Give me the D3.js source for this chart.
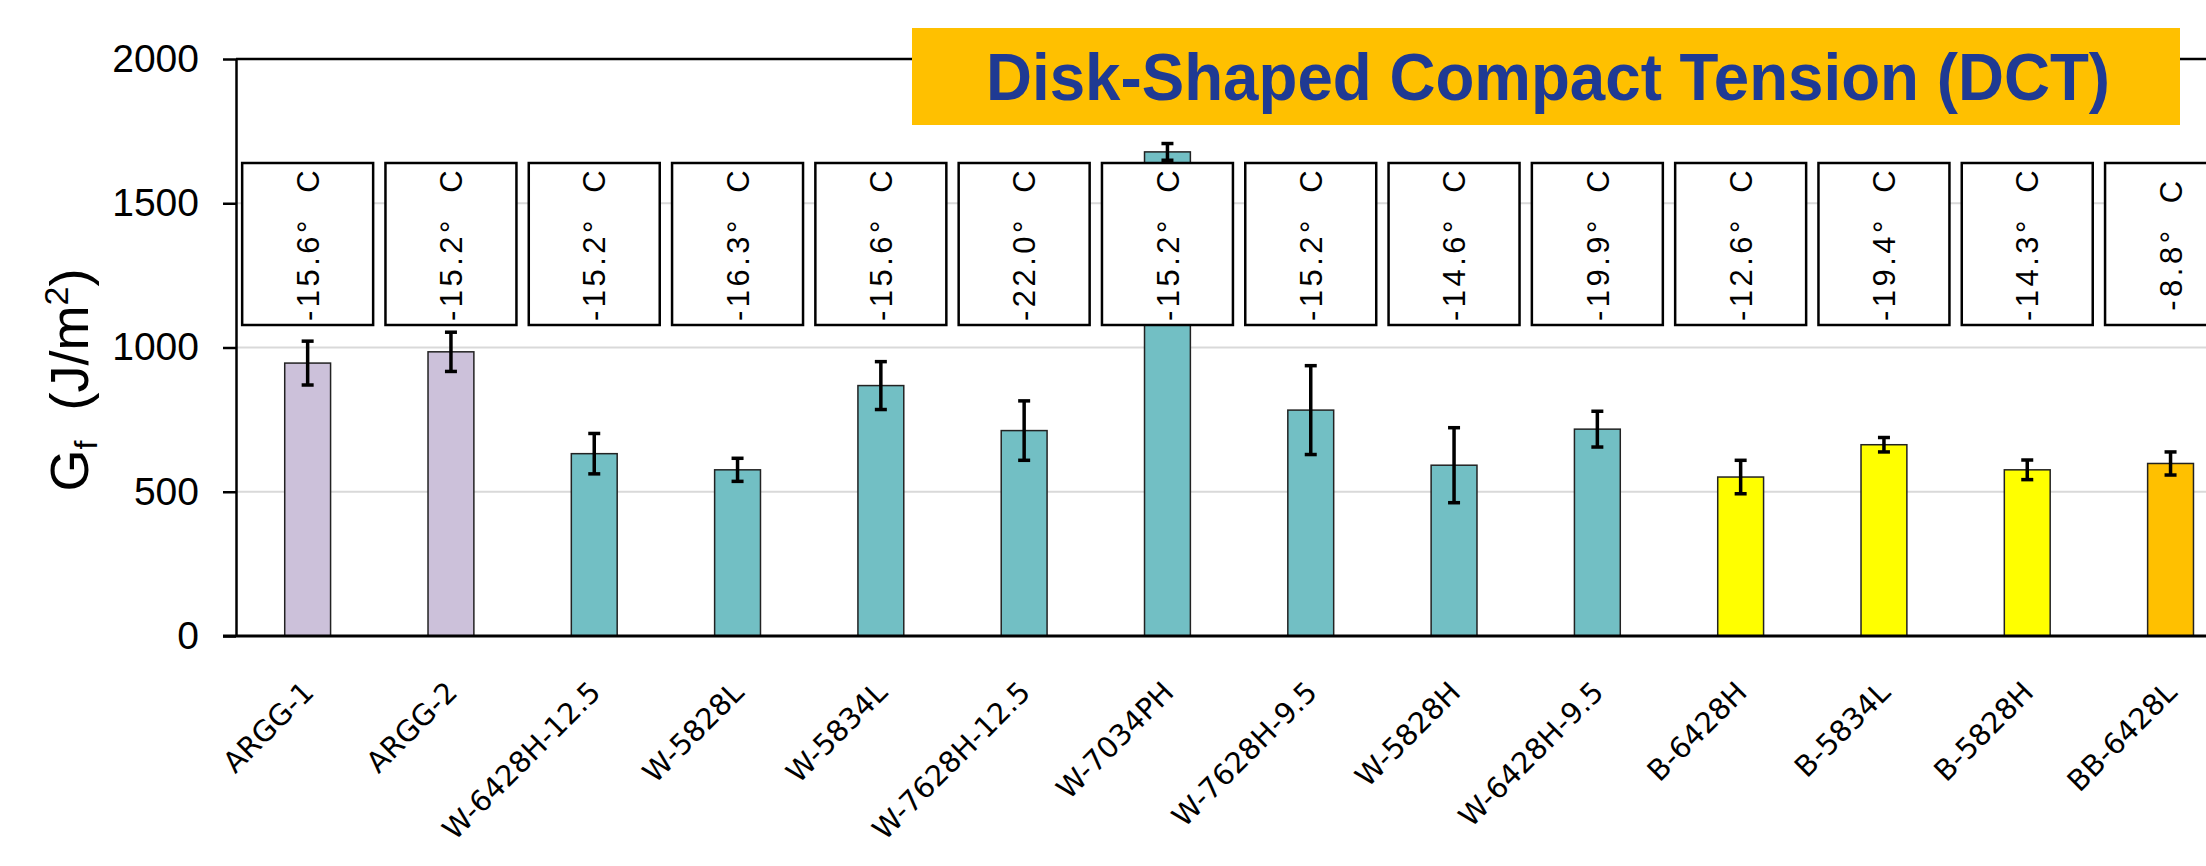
<!DOCTYPE html>
<html>
<head>
<meta charset="utf-8">
<script src="https://cdn.jsdelivr.net/npm/d3@7"></script>
<style>
  html, body { margin: 0; padding: 0; background: #fff; overflow: hidden; }
  svg { display: block; }
</style>
</head>
<body>
<svg id="chart" width="2206" height="866"></svg>
<script>
// --- du lieu ---
const categories = ["ARGG-1", "ARGG-2", "W-6428H-12.5", "W-5828L", "W-5834L", "W-7628H-12.5",
  "W-7034PH", "W-7628H-9.5", "W-5828H", "W-6428H-9.5", "B-6428H", "B-5834L", "B-5828H", "BB-6428L"];
const groups = ["ARGG", "ARGG", "W", "W", "W", "W", "W", "W", "W", "W", "B", "B", "B", "BB"];
const gfMean = [946, 985, 632, 576, 868, 712, 1678, 783, 592, 717, 551, 663, 576, 598];
const gfErr = [76, 68, 70, 40, 83, 103, 29, 154, 130, 62, 58, 25, 34, 40];
const testTemps = ["-15.6", "-15.2", "-15.2", "-16.3", "-15.6", "-22.0", "-15.2",
  "-15.2", "-14.6", "-19.9", "-12.6", "-19.4", "-14.3", "-8.8"];
const yTicks = [0, 500, 1000, 1500, 2000];
const groupColors = { ARGG: "#CCC1DA", W: "#72BFC4", B: "#FFFF00", BB: "#FFC000" };

const svg = d3.select("#chart");

// --- thang do ---
const plotLeft = 236, plotTop = 59, plotBottom = 636, step = 143.3;
const x = d3.scaleBand()
  .domain(categories)
  .range([plotLeft, plotLeft + step * categories.length])
  .paddingInner(0.68)
  .paddingOuter(0.34);

const xBox = d3.scaleBand()
  .domain(categories)
  .range([plotLeft, plotLeft + step * categories.length])
  .paddingInner(0.086)
  .paddingOuter(0.043);

const y = d3.scaleLinear().domain([0, 2000]).range([plotBottom, plotTop]);

// luoi ngang
svg.append("g")
  .selectAll("line")
  .data(yTicks.filter(d => d > 0 && d < 2000))
  .join("line")
    .attr("x1", plotLeft).attr("x2", 2206)
    .attr("y1", d => y(d)).attr("y2", d => y(d))
    .attr("stroke", "#D9D9D9").attr("stroke-width", 2);

// vien tren tai 2000
svg.append("line")
  .attr("x1", plotLeft).attr("x2", 2206)
  .attr("y1", y(2000)).attr("y2", y(2000))
  .attr("stroke", "#000").attr("stroke-width", 2.5);

// cot
svg.append("g")
  .selectAll("rect")
  .data(categories)
  .join("rect")
    .attr("x", d => x(d))
    .attr("width", x.bandwidth())
    .attr("y", (d, i) => y(gfMean[i]))
    .attr("height", (d, i) => y(0) - y(gfMean[i]))
    .attr("fill", (d, i) => groupColors[groups[i]])
    .attr("stroke", "#222")
    .attr("stroke-width", 1.5);

// hop nhiet do
const boxTop = 163, boxBottom = 325;
const boxes = svg.append("g")
  .selectAll("g")
  .data(categories)
  .join("g");

boxes.append("rect")
  .attr("x", d => xBox(d))
  .attr("width", xBox.bandwidth())
  .attr("y", boxTop)
  .attr("height", boxBottom - boxTop)
  .attr("fill", "#fff")
  .attr("stroke", "#000")
  .attr("stroke-width", 2.5);

boxes.append("text")
  .attr("transform", d => `translate(${xBox(d) + xBox.bandwidth() / 2},${(boxTop + boxBottom) / 2}) rotate(-90)`)
  .attr("text-anchor", "middle")
  .attr("dy", "0.36em")
  .style("font-family", "'Liberation Sans', Arial, sans-serif")
  .style("font-size", "31px")
  .style("letter-spacing", "3.5px")
  .style("white-space", "pre")
  .text((d, i) => `${testTemps[i]}°  C`);

// thanh sai so
const err = svg.append("g")
  .selectAll("g")
  .data(categories)
  .join("g")
    .attr("stroke", "#000")
    .attr("stroke-width", 3.5);

const cx = d => x(d) + x.bandwidth() / 2;
err.append("line")
  .attr("x1", cx).attr("x2", cx)
  .attr("y1", (d, i) => y(gfMean[i] + gfErr[i]))
  .attr("y2", (d, i) => y(gfMean[i] - gfErr[i]));
err.append("line")
  .attr("x1", d => cx(d) - 6).attr("x2", d => cx(d) + 6)
  .attr("y1", (d, i) => y(gfMean[i] + gfErr[i]))
  .attr("y2", (d, i) => y(gfMean[i] + gfErr[i]));
err.append("line")
  .attr("x1", d => cx(d) - 6).attr("x2", d => cx(d) + 6)
  .attr("y1", (d, i) => y(gfMean[i] - gfErr[i]))
  .attr("y2", (d, i) => y(gfMean[i] - gfErr[i]));

// truc Y
const yAxis = svg.append("g")
  .attr("transform", `translate(${plotLeft},0)`)
  .call(d3.axisLeft(y).tickValues(yTicks).tickFormat(d3.format("d"))
    .tickSize(13).tickPadding(24).tickSizeOuter(0));
yAxis.select(".domain").attr("stroke", "#000").attr("stroke-width", 2.5);
yAxis.selectAll(".tick line").attr("stroke", "#000").attr("stroke-width", 2.5);
yAxis.selectAll(".tick text")
  .style("font-family", "'Liberation Sans', Arial, sans-serif")
  .style("font-size", "39px")
  .attr("fill", "#000");

// truc X
const xAxis = svg.append("g")
  .attr("transform", `translate(0,${plotBottom})`)
  .call(d3.axisBottom(x).tickSize(0).tickSizeOuter(0).tickFormat(""));
xAxis.select(".domain")
  .attr("d", `M${plotLeft - 13},0H2206`)
  .attr("stroke", "#000").attr("stroke-width", 3);

svg.append("g")
  .selectAll("text")
  .data(categories)
  .join("text")
    .attr("transform", d => `translate(${cx(d) + 8},${plotBottom + 58}) rotate(-45)`)
    .attr("text-anchor", "end")
    .style("font-family", "'DejaVu Sans', Verdana, sans-serif")
    .style("font-size", "29px")
    .text(d => d);

// nhan truc Y
const yLabel = svg.append("text")
  .attr("transform", "translate(88,380) rotate(-90)")
  .attr("text-anchor", "middle")
  .style("font-family", "'Liberation Sans', Arial, sans-serif")
  .style("font-size", "54px")
  .style("white-space", "pre");
yLabel.append("tspan").text("G");
yLabel.append("tspan").attr("dy", "9").style("font-size", "32px").text("f");
yLabel.append("tspan").attr("dy", "-9").text("  (J/m");
yLabel.append("tspan").attr("dy", "-20").style("font-size", "34px").text("2");
yLabel.append("tspan").attr("dy", "20").text(")");

// tieu de
svg.append("rect")
  .attr("x", 912).attr("y", 28)
  .attr("width", 1268).attr("height", 97)
  .attr("fill", "#FFC000");
svg.append("text")
  .attr("x", 1548).attr("y", 100)
  .attr("text-anchor", "middle")
  .attr("textLength", 1124)
  .attr("lengthAdjust", "spacingAndGlyphs")
  .style("font-family", "'Liberation Sans', Arial, sans-serif")
  .style("font-weight", "bold")
  .style("font-size", "66px")
  .attr("fill", "#1F3A93")
  .text("Disk-Shaped Compact Tension (DCT)");
</script>
</body>
</html>
